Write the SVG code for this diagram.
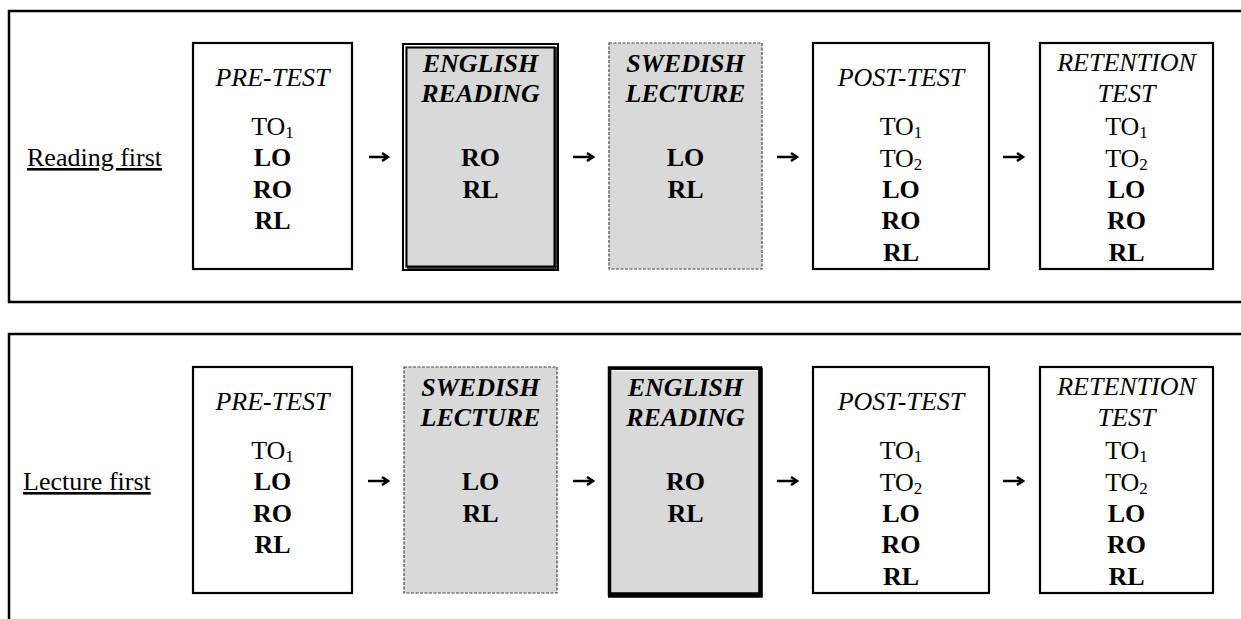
<svg xmlns="http://www.w3.org/2000/svg" width="1241" height="619" viewBox="0 0 1241 619" font-family="'Liberation Serif', 'DejaVu Serif', serif">
<defs>
<style>
text{font-family:'Liberation Serif','DejaVu Serif',serif;font-size:26px;fill:#000;text-anchor:middle}
.it{font-style:italic}
.b{font-weight:bold}
.bi{font-weight:bold;font-style:italic}
.lab{text-anchor:start;text-decoration:underline}
.frame{fill:none;stroke:#000;stroke-width:2.5}
.box{fill:#fff;stroke:#000;stroke-width:2.2}
.dash{fill:#d9d9d9;stroke:#444;stroke-width:1.2;stroke-dasharray:3 1.5}
.gray{fill:#d9d9d9}
.thick{fill:none;stroke:#000;stroke-width:3.5}
.thin{fill:none;stroke:#000;stroke-width:2}
.arr{fill:none;stroke:#000;stroke-width:2.5;marker-end:url(#ah)}
</style>
<marker id="ah" markerUnits="userSpaceOnUse" viewBox="0 0 9 10" refX="7.5" refY="5" markerWidth="9" markerHeight="10" orient="auto" overflow="visible">
<path d="M1.5,1 L7.5,5 L1.5,9" fill="none" stroke="#000" stroke-width="2.6"/>
</marker>
</defs>

<g id="frames">
<path class="frame" d="M1241,11 H9 V302 H1241"/>
<path class="frame" d="M1241,334 H9 V619"/>
</g>

<g id="labels" font-family="Liberation Serif">
<text class="lab" x="27" y="166">Reading first</text>
<text class="lab" x="23" y="490">Lecture first</text>
</g>

<g font-family="Liberation Serif">
<g id="r-pretest">
<rect class="box" x="193" y="43" width="159" height="226"/>
<text class="it" x="272.5" y="86">PRE-TEST</text>
<text x="272.5" y="135">TO<tspan font-size="17" dy="3">1</tspan></text>
<text class="b" x="272.5" y="166">LO</text>
<text class="b" x="272.5" y="198">RO</text>
<text class="b" x="272.5" y="229">RL</text>
</g>

<g id="r-english">
<rect class="gray" x="405" y="46" width="151" height="222"/>
<rect class="thin" x="403" y="44" width="155" height="226"/>
<rect class="thin" x="406.5" y="47.5" width="148" height="219"/>
<path d="M556,47 V268 H407" fill="none" stroke="#000" stroke-width="1.5"/>
<text class="bi" x="480.5" y="72">ENGLISH</text>
<text class="bi" x="480.5" y="102">READING</text>
<text class="b" x="480.5" y="166">RO</text>
<text class="b" x="480.5" y="198">RL</text>
</g>

<g id="r-swedish">
<rect class="dash" x="609" y="43" width="153" height="226"/>
<text class="bi" x="685.5" y="72">SWEDISH</text>
<text class="bi" x="685.5" y="102">LECTURE</text>
<text class="b" x="685.5" y="166">LO</text>
<text class="b" x="685.5" y="198">RL</text>
</g>

<g id="r-posttest">
<rect class="box" x="813" y="43" width="176" height="226"/>
<text class="it" x="901" y="86">POST-TEST</text>
<text x="901" y="135">TO<tspan font-size="17" dy="3">1</tspan></text>
<text x="901" y="167">TO<tspan font-size="17" dy="3">2</tspan></text>
<text class="b" x="901" y="198">LO</text>
<text class="b" x="901" y="229">RO</text>
<text class="b" x="901" y="261">RL</text>
</g>

<g id="r-retention">
<rect class="box" x="1040" y="43" width="173" height="226"/>
<text class="it" x="1126.5" y="71">RETENTION</text>
<text class="it" x="1126.5" y="102">TEST</text>
<text x="1126.5" y="135">TO<tspan font-size="17" dy="3">1</tspan></text>
<text x="1126.5" y="167">TO<tspan font-size="17" dy="3">2</tspan></text>
<text class="b" x="1126.5" y="198">LO</text>
<text class="b" x="1126.5" y="229">RO</text>
<text class="b" x="1126.5" y="261">RL</text>
</g>

<g id="l-pretest">
<rect class="box" x="193" y="367" width="159" height="226"/>
<text class="it" x="272.5" y="410">PRE-TEST</text>
<text x="272.5" y="459">TO<tspan font-size="17" dy="3">1</tspan></text>
<text class="b" x="272.5" y="490">LO</text>
<text class="b" x="272.5" y="522">RO</text>
<text class="b" x="272.5" y="553">RL</text>
</g>

<g id="l-swedish">
<rect class="dash" x="404" y="367" width="153" height="226"/>
<text class="bi" x="480.5" y="396">SWEDISH</text>
<text class="bi" x="480.5" y="426">LECTURE</text>
<text class="b" x="480.5" y="490">LO</text>
<text class="b" x="480.5" y="522">RL</text>
</g>

<g id="l-english">
<rect class="gray" x="609" y="368" width="152" height="226"/>
<rect class="thick" x="609.5" y="368" width="151" height="226"/>
<path d="M608.5,368.5 H761" fill="none" stroke="#000" stroke-width="2.5"/>
<path d="M612,370.6 H757" fill="none" stroke="#fff" stroke-width="1"/>
<path d="M760.5,368 V595.5 H608" fill="none" stroke="#000" stroke-width="4.5"/>
<text class="bi" x="685.5" y="396">ENGLISH</text>
<text class="bi" x="685.5" y="426">READING</text>
<text class="b" x="685.5" y="490">RO</text>
<text class="b" x="685.5" y="522">RL</text>
</g>

<g id="l-posttest">
<rect class="box" x="813" y="367" width="176" height="226"/>
<text class="it" x="901" y="410">POST-TEST</text>
<text x="901" y="459">TO<tspan font-size="17" dy="3">1</tspan></text>
<text x="901" y="491">TO<tspan font-size="17" dy="3">2</tspan></text>
<text class="b" x="901" y="522">LO</text>
<text class="b" x="901" y="553">RO</text>
<text class="b" x="901" y="585">RL</text>
</g>

<g id="l-retention">
<rect class="box" x="1040" y="367" width="173" height="226"/>
<text class="it" x="1126.5" y="395">RETENTION</text>
<text class="it" x="1126.5" y="426">TEST</text>
<text x="1126.5" y="459">TO<tspan font-size="17" dy="3">1</tspan></text>
<text x="1126.5" y="491">TO<tspan font-size="17" dy="3">2</tspan></text>
<text class="b" x="1126.5" y="522">LO</text>
<text class="b" x="1126.5" y="553">RO</text>
<text class="b" x="1126.5" y="585">RL</text>
</g>
</g>

<g id="connectors">
<path class="arr" d="M369,157 H388"/>
<path class="arr" d="M573,157 H593"/>
<path class="arr" d="M777,157 H797"/>
<path class="arr" d="M1003,157 H1023"/>
<path class="arr" d="M368,481 H388"/>
<path class="arr" d="M573,481 H593"/>
<path class="arr" d="M777,481 H797"/>
<path class="arr" d="M1003,481 H1023"/>
</g>
</svg>
